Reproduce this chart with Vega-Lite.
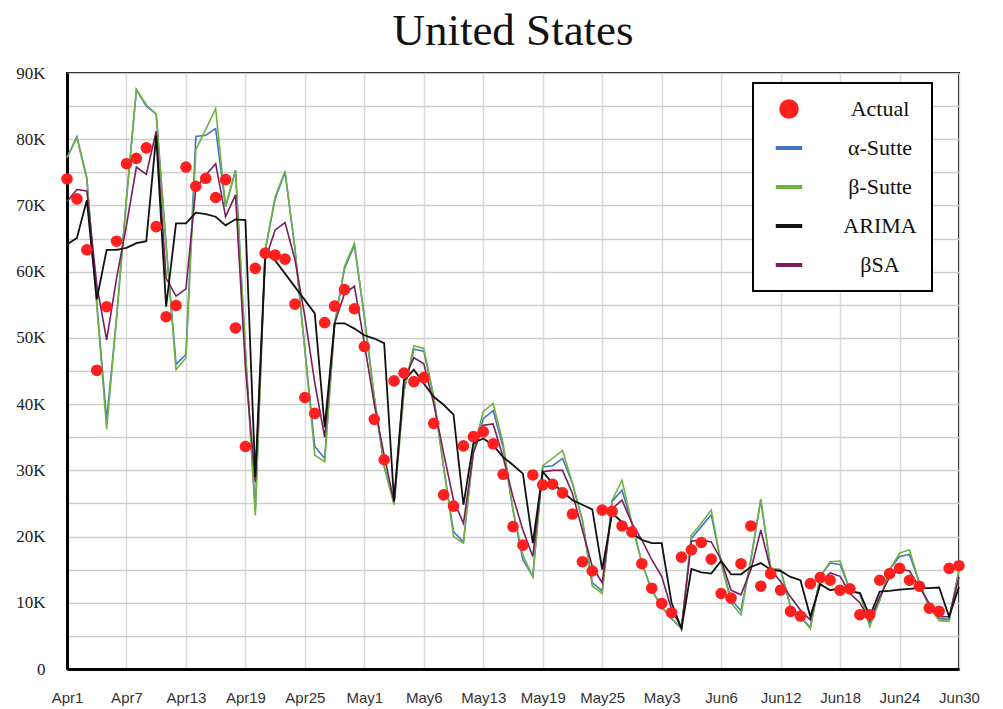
{
  "$schema": "https://vega.github.io/schema/vega-lite/v6.json",
  "width": 892,
  "height": 596,
  "autosize": {"type": "none"},
  "padding": {"left": 67, "top": 73, "right": 44, "bottom": 40},
  "background": "white",
  "title": {"text": "United States", "font": "Liberation Serif", "fontSize": 45, "fontWeight": "normal", "color": "#111111", "offset": 10, "anchor": "middle"},
  "config": {
    "view": {"stroke": "black", "strokeWidth": 2},
    "axis": {"ticks": false, "tickSize": 0, "domainColor": "black", "domainWidth": 3}
  },
  "data": {"values": [
    {"day":0,"Actual":74000,"α-Sutte":77200,"β-Sutte":77200,"ARIMA":64100,"βSA":70600},
    {"day":1,"Actual":71000,"α-Sutte":80400,"β-Sutte":80200,"ARIMA":65100,"βSA":72400},
    {"day":2,"Actual":63300,"α-Sutte":74200,"β-Sutte":73900,"ARIMA":70800,"βSA":72200},
    {"day":3,"Actual":45100,"α-Sutte":55500,"β-Sutte":55000,"ARIMA":55800,"βSA":58000},
    {"day":4,"Actual":54700,"α-Sutte":37500,"β-Sutte":36200,"ARIMA":63300,"βSA":49700},
    {"day":5,"Actual":64600,"α-Sutte":53000,"β-Sutte":53000,"ARIMA":63300,"βSA":59000},
    {"day":6,"Actual":76300,"α-Sutte":71000,"β-Sutte":71000,"ARIMA":63600,"βSA":67000},
    {"day":7,"Actual":77100,"α-Sutte":87500,"β-Sutte":87500,"ARIMA":64300,"βSA":75800},
    {"day":8,"Actual":78700,"α-Sutte":85000,"β-Sutte":85200,"ARIMA":64600,"βSA":74700},
    {"day":9,"Actual":66800,"α-Sutte":83800,"β-Sutte":83800,"ARIMA":80500,"βSA":81200},
    {"day":10,"Actual":53200,"α-Sutte":64000,"β-Sutte":64000,"ARIMA":54700,"βSA":59000},
    {"day":11,"Actual":54900,"α-Sutte":46000,"β-Sutte":45200,"ARIMA":67300,"βSA":56300},
    {"day":12,"Actual":75800,"α-Sutte":47500,"β-Sutte":47000,"ARIMA":67300,"βSA":57400},
    {"day":13,"Actual":72900,"α-Sutte":80400,"β-Sutte":78400,"ARIMA":68900,"βSA":72600},
    {"day":14,"Actual":74100,"α-Sutte":80600,"β-Sutte":81500,"ARIMA":68700,"βSA":74600},
    {"day":15,"Actual":71200,"α-Sutte":81600,"β-Sutte":84600,"ARIMA":68300,"βSA":76300},
    {"day":16,"Actual":73900,"α-Sutte":69800,"β-Sutte":69800,"ARIMA":67000,"βSA":68300},
    {"day":17,"Actual":51500,"α-Sutte":75300,"β-Sutte":75300,"ARIMA":67900,"βSA":71600},
    {"day":18,"Actual":33600,"α-Sutte":48000,"β-Sutte":48000,"ARIMA":67800,"βSA":45600},
    {"day":19,"Actual":60500,"α-Sutte":24000,"β-Sutte":23200,"ARIMA":29000,"βSA":28200},
    {"day":20,"Actual":62800,"α-Sutte":63300,"β-Sutte":63300,"ARIMA":62700,"βSA":61800},
    {"day":21,"Actual":62500,"α-Sutte":71000,"β-Sutte":71300,"ARIMA":61700,"βSA":66300},
    {"day":22,"Actual":61900,"α-Sutte":75000,"β-Sutte":75200,"ARIMA":59700,"βSA":67400},
    {"day":23,"Actual":55100,"α-Sutte":63500,"β-Sutte":63500,"ARIMA":57700,"βSA":61800},
    {"day":24,"Actual":41000,"α-Sutte":48200,"β-Sutte":48200,"ARIMA":55700,"βSA":53200},
    {"day":25,"Actual":38600,"α-Sutte":33600,"β-Sutte":32300,"ARIMA":53700,"βSA":43200},
    {"day":26,"Actual":52300,"α-Sutte":31800,"β-Sutte":31300,"ARIMA":36500,"βSA":35000},
    {"day":27,"Actual":54800,"α-Sutte":52000,"β-Sutte":52200,"ARIMA":52200,"βSA":52200},
    {"day":28,"Actual":57300,"α-Sutte":60500,"β-Sutte":60800,"ARIMA":52200,"βSA":56700},
    {"day":29,"Actual":54400,"α-Sutte":64000,"β-Sutte":64300,"ARIMA":51400,"βSA":57800},
    {"day":30,"Actual":48700,"α-Sutte":53200,"β-Sutte":53200,"ARIMA":50400,"βSA":49200},
    {"day":31,"Actual":37700,"α-Sutte":41100,"β-Sutte":41100,"ARIMA":49900,"βSA":40000},
    {"day":32,"Actual":31600,"α-Sutte":30600,"β-Sutte":30600,"ARIMA":49200,"βSA":32300},
    {"day":33,"Actual":43500,"α-Sutte":25000,"β-Sutte":24800,"ARIMA":25400,"βSA":25200},
    {"day":34,"Actual":44700,"α-Sutte":42000,"β-Sutte":42000,"ARIMA":43600,"βSA":43600},
    {"day":35,"Actual":43400,"α-Sutte":48300,"β-Sutte":48800,"ARIMA":45200,"βSA":47000},
    {"day":36,"Actual":44000,"α-Sutte":48000,"β-Sutte":48400,"ARIMA":43100,"βSA":46100},
    {"day":37,"Actual":37100,"α-Sutte":41100,"β-Sutte":41100,"ARIMA":41100,"βSA":40100},
    {"day":38,"Actual":26300,"α-Sutte":30500,"β-Sutte":30500,"ARIMA":39900,"βSA":32600},
    {"day":39,"Actual":24600,"α-Sutte":20700,"β-Sutte":20000,"ARIMA":38400,"βSA":25500},
    {"day":40,"Actual":33700,"α-Sutte":19200,"β-Sutte":19000,"ARIMA":24800,"βSA":22000},
    {"day":41,"Actual":35100,"α-Sutte":33000,"β-Sutte":33000,"ARIMA":34100,"βSA":32600},
    {"day":42,"Actual":35800,"α-Sutte":37800,"β-Sutte":38900,"ARIMA":34800,"βSA":36800},
    {"day":43,"Actual":34000,"α-Sutte":39000,"β-Sutte":40100,"ARIMA":33800,"βSA":37000},
    {"day":44,"Actual":29400,"α-Sutte":33500,"β-Sutte":34100,"ARIMA":32000,"βSA":32000},
    {"day":45,"Actual":21500,"α-Sutte":24000,"β-Sutte":24000,"ARIMA":30800,"βSA":26000},
    {"day":46,"Actual":18700,"α-Sutte":16500,"β-Sutte":17200,"ARIMA":29500,"βSA":21000},
    {"day":47,"Actual":29300,"α-Sutte":14000,"β-Sutte":13900,"ARIMA":19000,"βSA":17000},
    {"day":48,"Actual":27800,"α-Sutte":30500,"β-Sutte":30700,"ARIMA":29800,"βSA":29800},
    {"day":49,"Actual":27900,"α-Sutte":30700,"β-Sutte":31800,"ARIMA":28000,"βSA":30000},
    {"day":50,"Actual":26600,"α-Sutte":31800,"β-Sutte":33000,"ARIMA":26800,"βSA":30000},
    {"day":51,"Actual":23400,"α-Sutte":28000,"β-Sutte":28000,"ARIMA":25500,"βSA":26500},
    {"day":52,"Actual":16200,"α-Sutte":22500,"β-Sutte":22500,"ARIMA":24800,"βSA":21000},
    {"day":53,"Actual":14800,"α-Sutte":13000,"β-Sutte":12500,"ARIMA":24100,"βSA":15500},
    {"day":54,"Actual":24000,"α-Sutte":11800,"β-Sutte":11400,"ARIMA":15000,"βSA":13000},
    {"day":55,"Actual":23800,"α-Sutte":25300,"β-Sutte":25500,"ARIMA":23500,"βSA":24200},
    {"day":56,"Actual":21600,"α-Sutte":27000,"β-Sutte":28500,"ARIMA":22200,"βSA":25500},
    {"day":57,"Actual":20700,"α-Sutte":22000,"β-Sutte":22000,"ARIMA":20500,"βSA":22000},
    {"day":58,"Actual":15900,"α-Sutte":16000,"β-Sutte":16000,"ARIMA":19500,"βSA":19500},
    {"day":59,"Actual":12200,"α-Sutte":11900,"β-Sutte":11900,"ARIMA":19000,"βSA":16500},
    {"day":60,"Actual":9900,"α-Sutte":9400,"β-Sutte":9400,"ARIMA":19000,"βSA":14000},
    {"day":61,"Actual":8500,"α-Sutte":7600,"β-Sutte":7600,"ARIMA":10000,"βSA":9000},
    {"day":62,"Actual":16900,"α-Sutte":6100,"β-Sutte":6100,"ARIMA":6100,"βSA":6200},
    {"day":63,"Actual":18000,"α-Sutte":19700,"β-Sutte":20200,"ARIMA":15100,"βSA":19300},
    {"day":64,"Actual":19100,"α-Sutte":21500,"β-Sutte":22000,"ARIMA":14600,"βSA":19500},
    {"day":65,"Actual":16600,"α-Sutte":23300,"β-Sutte":24000,"ARIMA":14400,"βSA":19200},
    {"day":66,"Actual":11400,"α-Sutte":16000,"β-Sutte":16000,"ARIMA":16300,"βSA":16500},
    {"day":67,"Actual":10700,"α-Sutte":10500,"β-Sutte":10000,"ARIMA":14300,"βSA":11900},
    {"day":68,"Actual":15900,"α-Sutte":8800,"β-Sutte":8200,"ARIMA":14300,"βSA":11200},
    {"day":69,"Actual":21600,"α-Sutte":16500,"β-Sutte":16500,"ARIMA":15400,"βSA":15000},
    {"day":70,"Actual":12500,"α-Sutte":25500,"β-Sutte":25700,"ARIMA":16000,"βSA":21000},
    {"day":71,"Actual":14400,"α-Sutte":15200,"β-Sutte":15200,"ARIMA":15000,"βSA":15000},
    {"day":72,"Actual":11900,"α-Sutte":15000,"β-Sutte":15000,"ARIMA":14800,"βSA":13200},
    {"day":73,"Actual":8700,"α-Sutte":9400,"β-Sutte":9400,"ARIMA":13900,"βSA":10900},
    {"day":74,"Actual":8000,"α-Sutte":7900,"β-Sutte":7900,"ARIMA":13400,"βSA":8900},
    {"day":75,"Actual":12900,"α-Sutte":6300,"β-Sutte":6100,"ARIMA":7900,"βSA":7400},
    {"day":76,"Actual":13800,"α-Sutte":14000,"β-Sutte":14000,"ARIMA":12800,"βSA":13000},
    {"day":77,"Actual":13400,"α-Sutte":16000,"β-Sutte":16200,"ARIMA":11900,"βSA":14500},
    {"day":78,"Actual":11900,"α-Sutte":15800,"β-Sutte":16300,"ARIMA":12200,"βSA":14000},
    {"day":79,"Actual":12100,"α-Sutte":11900,"β-Sutte":11900,"ARIMA":11700,"βSA":11400},
    {"day":80,"Actual":8200,"α-Sutte":11400,"β-Sutte":11400,"ARIMA":11500,"βSA":10000},
    {"day":81,"Actual":8200,"α-Sutte":6900,"β-Sutte":6400,"ARIMA":8000,"βSA":7300},
    {"day":82,"Actual":13400,"α-Sutte":10400,"β-Sutte":10400,"ARIMA":11700,"βSA":10900},
    {"day":83,"Actual":14400,"α-Sutte":15000,"β-Sutte":15000,"ARIMA":11800,"βSA":13900},
    {"day":84,"Actual":15200,"α-Sutte":17000,"β-Sutte":17500,"ARIMA":12000,"βSA":15100},
    {"day":85,"Actual":13400,"α-Sutte":17300,"β-Sutte":18000,"ARIMA":12100,"βSA":14800},
    {"day":86,"Actual":12500,"α-Sutte":13000,"β-Sutte":13000,"ARIMA":12200,"βSA":12400},
    {"day":87,"Actual":9200,"α-Sutte":9400,"β-Sutte":9400,"ARIMA":12200,"βSA":9900},
    {"day":88,"Actual":8700,"α-Sutte":7600,"β-Sutte":7300,"ARIMA":12300,"βSA":7900},
    {"day":89,"Actual":15200,"α-Sutte":7500,"β-Sutte":7200,"ARIMA":7900,"βSA":7900},
    {"day":90,"Actual":15600,"α-Sutte":15000,"β-Sutte":15000,"ARIMA":12400,"βSA":13900}
  ]},
  "transform": [{"fold": ["Actual", "α-Sutte", "β-Sutte", "ARIMA", "βSA"], "as": ["series", "value"]}],
  "encoding": {
    "x": {"field": "day", "type": "quantitative",
      "scale": {"domain": [0, 90], "nice": false, "zero": false},
      "axis": {"title": null, "values": [0,6,12,18,24,30,36,42,48,54,60,66,72,78,84,90],
        "labelExpr": "['Apr1','Apr7','Apr13','Apr19','Apr25','May1','May6','May13','May19','May25','May3','Jun6','Jun12','Jun18','Jun24','Jun30'][round(datum.value/6)]",
        "labelFont": "Liberation Sans", "labelFontSize": 15, "labelColor": "#333333", "labelPadding": 21,
        "grid": true, "gridColor": "#dadada", "gridWidth": 1.5, "labelFlush": false, "labelOverlap": false}},
    "y": {"field": "value", "type": "quantitative",
      "scale": {"domain": [0, 90000], "nice": false},
      "axis": {"title": null, "values": [0,5000,10000,15000,20000,25000,30000,35000,40000,45000,50000,55000,60000,65000,70000,75000,80000,85000,90000],
        "labelExpr": "datum.value % 10000 === 0 ? (datum.value === 0 ? '0' : (datum.value/1000) + 'K') : ''",
        "labelFont": "Liberation Serif", "labelFontSize": 17, "labelColor": "#222222", "labelPadding": 22,
        "grid": true, "gridColor": "#cdcdcd", "gridWidth": 1.5, "labelOverlap": false}},
    "color": {"field": "series", "type": "nominal",
      "scale": {"domain": ["Actual", "α-Sutte", "β-Sutte", "ARIMA", "βSA"], "range": ["#ff1f1f", "#4472c4", "#6fb33f", "#111111", "#7a1d5a"]},
      "legend": {"title": null, "orient": "none", "legendX": 686, "legendY": 10,
        "fillColor": "white", "strokeColor": "black", "padding": 15,
        "labelFont": "Liberation Serif", "labelFontSize": 22, "labelColor": "#111111",
        "labelAlign": "center", "labelOffset": 80, "rowPadding": 17,
        "symbolType": "stroke", "symbolSize": 700, "symbolStrokeWidth": 4, "symbolOffset": 10,
        "encode": {
          "legend": {"update": {"strokeWidth": {"value": 2}}},
          "symbols": {"update": {
            "shape": {"signal": "datum.value === 'Actual' ? 'circle' : 'stroke'"},
            "size": {"signal": "datum.value === 'Actual' ? 380 : 700"},
            "fill": {"signal": "datum.value === 'Actual' ? '#ff0000' : 'transparent'"},
            "stroke": {"signal": "datum.value === 'Actual' ? 'transparent' : datum.value === 'α-Sutte' ? '#4472c4' : datum.value === 'β-Sutte' ? '#70ad47' : datum.value === 'ARIMA' ? '#000000' : '#7030a0'"},
            "strokeWidth": {"signal": "datum.value === 'Actual' ? 0 : 4"},
            "opacity": {"value": 1}
          }}
        }}}
  },
  "layer": [
    {"transform": [{"filter": "datum.series === 'α-Sutte'"}], "mark": {"type": "line", "strokeWidth": 1.6}},
    {"transform": [{"filter": "datum.series === 'β-Sutte'"}], "mark": {"type": "line", "strokeWidth": 1.6}},
    {"transform": [{"filter": "datum.series === 'βSA'"}], "mark": {"type": "line", "strokeWidth": 1.6}},
    {"transform": [{"filter": "datum.series === 'ARIMA'"}], "mark": {"type": "line", "strokeWidth": 1.8}},
    {"transform": [{"filter": "datum.series === 'Actual'"}], "mark": {"type": "point", "filled": true, "size": 135, "opacity": 1}}
  ]
}
